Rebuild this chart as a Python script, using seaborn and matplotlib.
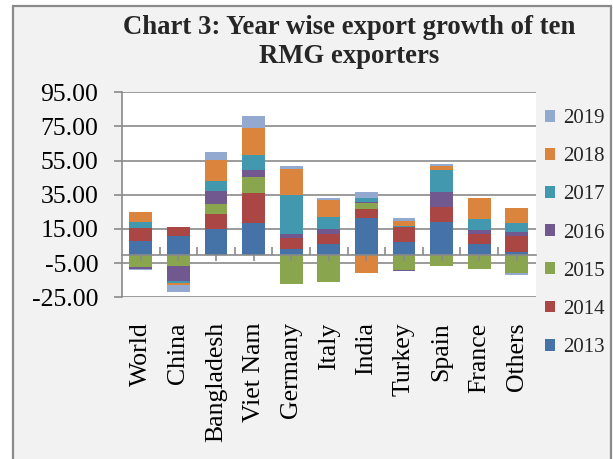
import numpy as np
import pandas as pd
import matplotlib
matplotlib.use("Agg")
import matplotlib.pyplot as plt
import seaborn as sns
from matplotlib.patches import Rectangle

countries = ["World", "China", "Bangladesh", "Viet Nam", "Germany", "Italy",
             "India", "Turkey", "Spain", "France", "Others"]
years = ["2013", "2014", "2015", "2016", "2017", "2018", "2019"]

v2013 = [7.8, 11.1, 14.8, 18.7, 3.3, 6.2, 21.7, 7.6, 19.1, 6.4, 1.6]
v2014 = [7.6, 4.9, 9.0, 17.4, 6.6, 5.9, 5.1, 8.6, 8.8, 5.7, 9.0]
v2015 = [-7.4, -6.4, 6.0, 9.2, -17.2, -15.8, 3.5, -9.0, -6.8, -8.4, -10.9]
v2016 = [-1.2, -9.2, 7.6, 4.5, 2.0, 3.1, 0.5, -0.6, 9.0, 2.5, 2.9]
v2017 = [3.7, -1.2, 5.7, 8.6, 22.8, 6.8, 2.1, 0.4, 12.7, 6.4, 5.1]
v2018 = [5.7, -0.8, 12.3, 15.8, 15.2, 10.0, -10.7, 3.3, 2.5, 11.9, 8.4]
v2019 = [-0.5, -4.5, 4.7, 6.8, 1.8, 1.0, 3.7, 1.6, 1.0, 0.0, -0.8]

yticks = [-25, -5, 15, 35, 55, 75, 95]

colors = ["#4572A7", "#AA4643", "#89A54E", "#71588F", "#4198AF", "#DB843D", "#93A9CF"]

sns.set_theme(style="white")
plt.rcParams["font.family"] = ["Liberation Serif", "DejaVu Serif"]

series = [v2013, v2014, v2015, v2016, v2017, v2018, v2019]
vals = np.array(series)
pos_cum = np.cumsum(np.clip(vals, 0, None), axis=0)
neg_cum = np.cumsum(np.clip(vals, None, 0), axis=0)

fig = plt.figure(figsize=(6.13, 4.59), dpi=100)
fig.patch.set_facecolor("white")
frame = Rectangle((13 / 613, -0.05), (611 - 13) / 613, 1.05 - 6 / 459,
                  transform=fig.transFigure, facecolor="#f2f2f2",
                  edgecolor="#8a8a8a", lw=1.6, zorder=-10)
fig.add_artist(frame)

ax = fig.add_axes([122 / 613, 1 - 297.3 / 459, (535.6 - 122) / 613, (297.3 - 92.3) / 459])
ax.set_facecolor("white")

for i in range(len(years) - 1, -1, -1):
    dfp = pd.DataFrame({"country": countries, "val": pos_cum[i]})
    dfn = pd.DataFrame({"country": countries, "val": neg_cum[i]})
    for d in (dfp, dfn):
        sns.barplot(data=d, x="country", y="val", order=countries, color=colors[i],
                    width=0.61, saturation=1, ax=ax, errorbar=None,
                    label=years[i] if d is dfp else None, linewidth=0)

handles, labels = ax.get_legend_handles_labels()
if ax.get_legend() is not None:
    ax.get_legend().remove()

ax.set_ylim(-25, 95)
ax.set_xlim(-0.5, len(countries) - 0.5)
ax.set_yticks(yticks)
ax.set_yticklabels([f"{v:.2f}" for v in yticks])
ax.set_xlabel("")
ax.set_ylabel("")
ax.set_axisbelow(True)
ax.yaxis.grid(True, color="#8a8a8a", lw=1.2)
ax.xaxis.grid(False)
for s in ["top", "right", "bottom"]:
    ax.spines[s].set_visible(False)
ax.spines["left"].set_color("#8a8a8a")
ax.spines["left"].set_linewidth(1.2)
ax.tick_params(axis="y", which="major", direction="out", length=6, width=1.2,
               color="#8a8a8a", pad=11, labelsize=18.5, labelcolor="black", left=True)
ax.tick_params(axis="x", length=0, pad=18, labelsize=18.5, labelcolor="black",
               labelrotation=90)

secax = ax.secondary_xaxis(0, transform=ax.transData)
secax.set_xticks(range(len(countries)))
secax.set_xticks(np.arange(len(countries) - 1) + 0.5, minor=True)
secax.tick_params(axis="x", which="major", direction="out", length=4.5, width=1.2,
                  color="#8a8a8a", labelbottom=False)
secax.tick_params(axis="x", which="minor", direction="in", length=6, width=1.2,
                  color="#8a8a8a", labelbottom=False)
secax.spines["bottom"].set_color("#8a8a8a")
secax.spines["bottom"].set_linewidth(1.2)
secax.set_zorder(5)

order = sorted(range(len(labels)), key=lambda k: labels[k], reverse=True)
leg = fig.legend([handles[k] for k in order], [labels[k] for k in order],
                 loc="upper left", bbox_to_anchor=(545 / 613, 1 - 109 / 459),
                 frameon=False, fontsize=15, borderpad=0, borderaxespad=0,
                 handlelength=0.5, handleheight=0.5, handletextpad=0.35,
                 labelspacing=0.92)

fig.text(349 / 613, 1 - 42 / 459, "Chart 3: Year wise export growth of ten\nRMG exporters",
         ha="center", va="center", fontsize=19.3, fontweight="bold", linespacing=1.2)

fig.savefig("out.png", dpi=100)
